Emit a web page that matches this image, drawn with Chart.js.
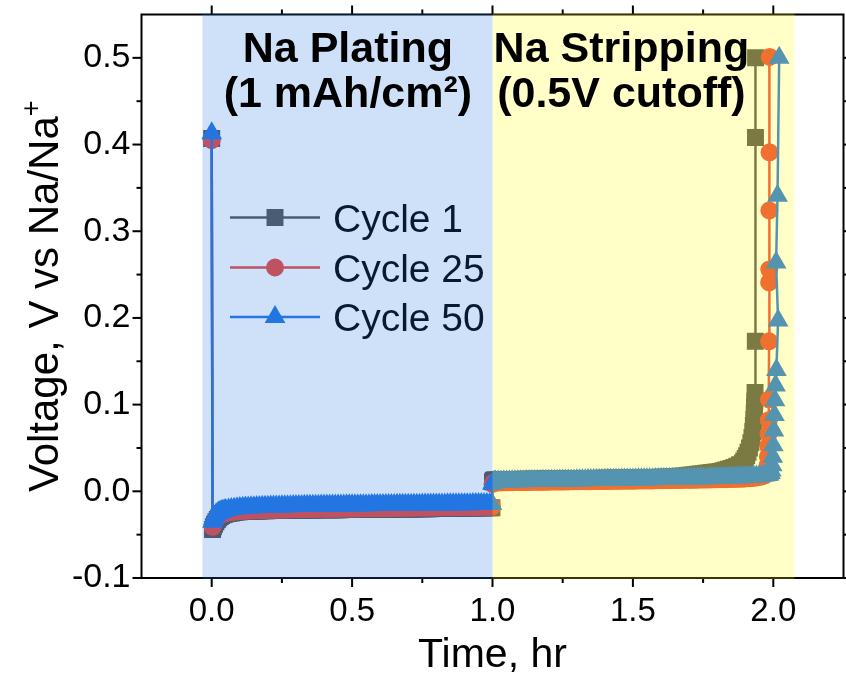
<!DOCTYPE html>
<html>
<head>
<meta charset="utf-8">
<script src="https://cdn.jsdelivr.net/npm/chart.js@4.4.1/dist/chart.umd.min.js"></script>
<style>
  html, body { margin: 0; padding: 0; background: #ffffff; }
  canvas { display: block; }
</style>
</head>
<body>
<canvas id="chart" width="846" height="693"></canvas>
<script>
// Galvanostatic Na plating / stripping profiles, voltage vs time
const seriesNames = ['Cycle 1', 'Cycle 25', 'Cycle 50'];

// plating step (hr)
const plateTime = [
  0, 0.003, 0.006, 0.01, 0.015, 0.02, 0.025, 0.03, 0.035, 0.04, 0.045, 0.05, 0.06, 0.07, 0.08, 0.09,
  0.10, 0.11, 0.12, 0.13, 0.14, 0.15, 0.16, 0.17, 0.18, 0.19,
  0.20, 0.21, 0.22, 0.23, 0.24, 0.25, 0.26, 0.27, 0.28, 0.29,
  0.30, 0.31, 0.32, 0.33, 0.34, 0.35, 0.36, 0.37, 0.38, 0.39,
  0.40, 0.41, 0.42, 0.43, 0.44, 0.45, 0.46, 0.47, 0.48, 0.49,
  0.50, 0.51, 0.52, 0.53, 0.54, 0.55, 0.56, 0.57, 0.58, 0.59,
  0.60, 0.61, 0.62, 0.63, 0.64, 0.65, 0.66, 0.67, 0.68, 0.69,
  0.70, 0.71, 0.72, 0.73, 0.74, 0.75, 0.76, 0.77, 0.78, 0.79,
  0.80, 0.81, 0.82, 0.83, 0.84, 0.85, 0.86, 0.87, 0.88, 0.89,
  0.90, 0.91, 0.92, 0.93, 0.94, 0.95, 0.96, 0.97, 0.98, 0.99,
  0.998
];
const c1Plate = [
  0.407, -0.044, -0.041, -0.038, -0.035, -0.0325, -0.0305, -0.029, -0.028, -0.027, -0.0265, -0.026, -0.0255, -0.025, -0.0245, -0.024,
  -0.0237, -0.0234, -0.0232, -0.023, -0.0229, -0.0228, -0.0227, -0.0226, -0.0225, -0.0224,
  -0.0223, -0.0222, -0.0222, -0.0221, -0.022, -0.022, -0.0219, -0.0219, -0.0218, -0.0218,
  -0.0217, -0.0217, -0.0216, -0.0216, -0.0216, -0.0215, -0.0215, -0.0215, -0.0214, -0.0214,
  -0.0214, -0.0213, -0.0213, -0.0213, -0.0212, -0.0212, -0.0212, -0.0211, -0.0211, -0.0211,
  -0.021, -0.021, -0.021, -0.0209, -0.0209, -0.0209, -0.0208, -0.0208, -0.0208, -0.0207,
  -0.0207, -0.0207, -0.0206, -0.0206, -0.0206, -0.0205, -0.0205, -0.0205, -0.0204, -0.0204,
  -0.0204, -0.0203, -0.0203, -0.0202, -0.0202, -0.0201, -0.0201, -0.02, -0.02, -0.0199,
  -0.0199, -0.0198, -0.0198, -0.0197, -0.0197, -0.0196, -0.0196, -0.0195, -0.0195, -0.0194,
  -0.0194, -0.0193, -0.0193, -0.0192, -0.0192, -0.0191, -0.0191, -0.019, -0.019, -0.0189,
  -0.0189
];
const c25Plate = [
  0.405, -0.041, -0.038, -0.035, -0.032, -0.030, -0.0285, -0.0275, -0.0265, -0.026, -0.0255, -0.025, -0.0245, -0.024, -0.0235, -0.023,
  -0.0228, -0.0226, -0.0224, -0.0222, -0.0221, -0.022, -0.0219, -0.0218, -0.0217, -0.0216,
  -0.0215, -0.0214, -0.0213, -0.0212, -0.0211, -0.021, -0.021, -0.0209, -0.0208, -0.0208,
  -0.0207, -0.0206, -0.0206, -0.0205, -0.0205, -0.0204, -0.0204, -0.0203, -0.0203, -0.0202,
  -0.0202, -0.0201, -0.0201, -0.02, -0.02, -0.02, -0.0199, -0.0199, -0.0198, -0.0198,
  -0.0198, -0.0197, -0.0197, -0.0196, -0.0196, -0.0196, -0.0195, -0.0195, -0.0194, -0.0194,
  -0.0194, -0.0193, -0.0193, -0.0192, -0.0192, -0.0192, -0.0191, -0.0191, -0.019, -0.019,
  -0.019, -0.0189, -0.0189, -0.0188, -0.0188, -0.0188, -0.0187, -0.0187, -0.0186, -0.0186,
  -0.0186, -0.0185, -0.0185, -0.0184, -0.0184, -0.0184, -0.0183, -0.0183, -0.0182, -0.0182,
  -0.0182, -0.0181, -0.0181, -0.018, -0.018, -0.018, -0.0179, -0.0179, -0.0178, -0.0178,
  -0.0178
];
const c50Plate = [
  0.413, -0.035, -0.032, -0.029, -0.027, -0.0255, -0.0245, -0.0235, -0.023, -0.0225, -0.022, -0.0215, -0.021, -0.0205, -0.020, -0.0195,
  -0.0192, -0.019, -0.0188, -0.0186, -0.0185, -0.0183, -0.0182, -0.018, -0.0179, -0.0178,
  -0.0177, -0.0176, -0.0175, -0.0175, -0.0174, -0.0173, -0.0172, -0.0172, -0.0171, -0.017,
  -0.017, -0.0169, -0.0169, -0.0168, -0.0168, -0.0167, -0.0167, -0.0166, -0.0166, -0.0165,
  -0.0165, -0.0165, -0.0164, -0.0164, -0.0164, -0.0163, -0.0163, -0.0163, -0.0162, -0.0162,
  -0.0162, -0.0161, -0.0161, -0.0161, -0.016, -0.016, -0.016, -0.0159, -0.0159, -0.0159,
  -0.0158, -0.0158, -0.0158, -0.0157, -0.0157, -0.0157, -0.0156, -0.0156, -0.0156, -0.0155,
  -0.0155, -0.0155, -0.0154, -0.0154, -0.0154, -0.0153, -0.0153, -0.0153, -0.0152, -0.0152,
  -0.0152, -0.0151, -0.0151, -0.0151, -0.015, -0.015, -0.015, -0.0149, -0.0149, -0.0149,
  -0.0148, -0.0148, -0.0148, -0.0147, -0.0147, -0.0147, -0.0146, -0.0146, -0.0146, -0.0145,
  -0.0145
];

// stripping step (hr), common part
const stripTime = [
  1.0, 1.003, 1.006,
  1.01, 1.02, 1.03, 1.04, 1.05, 1.06, 1.07, 1.08, 1.09,
  1.10, 1.11, 1.12, 1.13, 1.14, 1.15, 1.16, 1.17, 1.18, 1.19,
  1.20, 1.21, 1.22, 1.23, 1.24, 1.25, 1.26, 1.27, 1.28, 1.29,
  1.30, 1.31, 1.32, 1.33, 1.34, 1.35, 1.36, 1.37, 1.38, 1.39,
  1.40, 1.41, 1.42, 1.43, 1.44, 1.45, 1.46, 1.47, 1.48, 1.49,
  1.50, 1.51, 1.52, 1.53, 1.54, 1.55, 1.56, 1.57, 1.58, 1.59,
  1.60, 1.61, 1.62, 1.63, 1.64, 1.65, 1.66, 1.67, 1.68, 1.69,
  1.70, 1.71, 1.72, 1.73, 1.74, 1.75, 1.76, 1.77, 1.78, 1.79,
  1.80, 1.81, 1.82, 1.83, 1.84, 1.85, 1.86, 1.87, 1.88, 1.89
];
const c1Strip = [
  0.011, 0.0125, 0.013,
  0.0132, 0.0133, 0.0134, 0.0134, 0.0135, 0.0135, 0.0136, 0.0136, 0.0137,
  0.0137, 0.0138, 0.0138, 0.0139, 0.0139, 0.014, 0.014, 0.0141, 0.0141, 0.0142,
  0.0142, 0.0142, 0.0143, 0.0143, 0.0144, 0.0144, 0.0144, 0.0145, 0.0145, 0.0146,
  0.0146, 0.0146, 0.0147, 0.0147, 0.0148, 0.0148, 0.0148, 0.0149, 0.0149, 0.015,
  0.015, 0.015, 0.0151, 0.0151, 0.0152, 0.0152, 0.0153, 0.0153, 0.0154, 0.0154,
  0.0155, 0.0155, 0.0156, 0.0156, 0.0157, 0.0157, 0.0158, 0.0158, 0.0159, 0.016,
  0.0161, 0.0162, 0.0163, 0.0164, 0.0166, 0.0168, 0.017, 0.0173, 0.0176, 0.018,
  0.0184, 0.0188, 0.0192, 0.0196, 0.02, 0.0204, 0.0208, 0.0212, 0.0216, 0.022,
  0.0224, 0.023, 0.0237, 0.0245, 0.0254, 0.0264, 0.0276, 0.029, 0.0307, 0.0328
];
const c25Strip = [
  0.0085, 0.0098, 0.0101,
  0.0102, 0.0103, 0.0103, 0.0104, 0.0104, 0.0105, 0.0105, 0.0106, 0.0106,
  0.0107, 0.0107, 0.0108, 0.0108, 0.0109, 0.0109, 0.011, 0.011, 0.011, 0.0111,
  0.0111, 0.0112, 0.0112, 0.0113, 0.0113, 0.0113, 0.0114, 0.0114, 0.0115, 0.0115,
  0.0115, 0.0116, 0.0116, 0.0117, 0.0117, 0.0117, 0.0118, 0.0118, 0.0119, 0.0119,
  0.0119, 0.012, 0.012, 0.0121, 0.0121, 0.0121, 0.0122, 0.0122, 0.0123, 0.0123,
  0.0123, 0.0124, 0.0124, 0.0125, 0.0125, 0.0125, 0.0126, 0.0126, 0.0127, 0.0127,
  0.0128, 0.0128, 0.0129, 0.0129, 0.013, 0.013, 0.0131, 0.0131, 0.0132, 0.0132,
  0.0133, 0.0133, 0.0134, 0.0134, 0.0135, 0.0135, 0.0136, 0.0137, 0.0137, 0.0138,
  0.0138, 0.0139, 0.014, 0.014, 0.0141, 0.0142, 0.0143, 0.0144, 0.0145, 0.0146
];
const c50Strip = [
  0.0088, 0.0105, 0.011,
  0.0112, 0.0113, 0.0113, 0.0114, 0.0114, 0.0115, 0.0115, 0.0116, 0.0116,
  0.0117, 0.0117, 0.0118, 0.0118, 0.0119, 0.0119, 0.012, 0.012, 0.0121, 0.0121,
  0.0122, 0.0122, 0.0123, 0.0123, 0.0124, 0.0124, 0.0125, 0.0125, 0.0126, 0.0126,
  0.0127, 0.0127, 0.0128, 0.0128, 0.0129, 0.0129, 0.013, 0.013, 0.0131, 0.0131,
  0.0132, 0.0132, 0.0133, 0.0133, 0.0134, 0.0134, 0.0135, 0.0135, 0.0136, 0.0136,
  0.0137, 0.0137, 0.0138, 0.0138, 0.0139, 0.0139, 0.014, 0.014, 0.0141, 0.0141,
  0.0142, 0.0142, 0.0143, 0.0143, 0.0144, 0.0145, 0.0145, 0.0146, 0.0146, 0.0147,
  0.0148, 0.0148, 0.0149, 0.015, 0.015, 0.0151, 0.0152, 0.0152, 0.0153, 0.0154,
  0.0155, 0.0155, 0.0156, 0.0157, 0.0158, 0.0159, 0.016, 0.0161, 0.0162, 0.0163
];

// end of stripping, up to the 0.5 V cutoff
const c1TailTime = [1.895, 1.90, 1.905, 1.91, 1.915, 1.92, 1.924, 1.927, 1.929, 1.931, 1.932, 1.933, 1.934, 1.935, 1.936, 1.9365, 1.937];
const c1TailV    = [0.035, 0.038, 0.041, 0.045, 0.05, 0.056, 0.062, 0.069, 0.076, 0.083, 0.09, 0.097, 0.104, 0.114, 0.173, 0.408, 0.5];
const c25TailTime = [1.90, 1.91, 1.92, 1.93, 1.94, 1.95, 1.96, 1.97, 1.975, 1.978, 1.98, 1.981, 1.982, 1.983, 1.984, 1.9845, 1.985, 1.9853, 1.9856, 1.986, 1.9865, 1.987];
const c25TailV    = [0.0148, 0.015, 0.0153, 0.0156, 0.016, 0.0165, 0.0172, 0.0185, 0.0205, 0.024, 0.03, 0.04, 0.052, 0.066, 0.082, 0.106, 0.173, 0.241, 0.256, 0.324, 0.391, 0.501];
const c50TailTime = [1.90, 1.91, 1.92, 1.93, 1.94, 1.95, 1.96, 1.97, 1.98, 1.985, 1.99, 1.993, 1.996, 1.998, 2.0, 2.002, 2.004, 2.006, 2.008, 2.011, 2.017, 2.010, 2.015, 2.021];
const c50TailV    = [0.0164, 0.0166, 0.0168, 0.017, 0.0172, 0.0175, 0.0178, 0.0182, 0.0188, 0.0195, 0.021, 0.024, 0.03, 0.04, 0.053, 0.07, 0.088, 0.105, 0.122, 0.14, 0.197, 0.264, 0.341, 0.5];

// axes
const xRange = [-0.25, 2.25];
const yRange = [-0.1, 0.55];
const xTicks = [0.0, 0.5, 1.0, 1.5, 2.0];
const xMinorTicks = [0.25, 0.75, 1.25, 1.75];
const yTicks = [-0.1, 0.0, 0.1, 0.2, 0.3, 0.4, 0.5];
const yMinorTicks = [-0.05, 0.05, 0.15, 0.25, 0.35, 0.45];

// shaded step windows (hr)
const platingSpan = [-0.033, 1.0];
const strippingSpan = [1.0, 2.075];

const FONT = "'Liberation Sans', Arial, Helvetica, sans-serif";
const lineColors = ['#555555', '#ec483e', '#2577e2'];
const markers = [
  { style: 'rect', radius: 12 },
  { style: 'circle', radius: 9 },
  { style: 'triangle', radius: 12 }
];

function toPoints(times, volts) {
  return times.map((t, i) => ({ x: t, y: volts[i] }));
}

const seriesData = [
  [...toPoints(plateTime, c1Plate), ...toPoints(stripTime, c1Strip), ...toPoints(c1TailTime, c1TailV)],
  [...toPoints(plateTime, c25Plate), ...toPoints(stripTime, c25Strip), ...toPoints(c25TailTime, c25TailV)],
  [...toPoints(plateTime, c50Plate), ...toPoints(stripTime, c50Strip), ...toPoints(c50TailTime, c50TailV)]
];

// later cycles are painted over earlier ones
const datasets = seriesNames.map((name, i) => ({
  label: name,
  data: seriesData[i],
  order: seriesNames.length - i,
  borderColor: lineColors[i],
  backgroundColor: lineColors[i],
  borderWidth: 2.5,
  pointStyle: markers[i].style,
  pointRadius: markers[i].radius,
  pointBorderWidth: 0,
  pointBackgroundColor: lineColors[i],
  tension: 0,
  showLine: true
}));

function markerAt(ctx, style, radius, color, x, y) {
  ctx.fillStyle = color;
  ctx.beginPath();
  if (style === 'rect') {
    const s = radius * Math.SQRT1_2;
    ctx.rect(x - s, y - s, 2 * s, 2 * s);
  } else if (style === 'circle') {
    ctx.arc(x, y, radius, 0, Math.PI * 2);
  } else {
    ctx.moveTo(x, y - radius);
    ctx.lineTo(x + Math.sin(Math.PI * 2 / 3) * radius, y + radius / 2);
    ctx.lineTo(x - Math.sin(Math.PI * 2 / 3) * radius, y + radius / 2);
    ctx.closePath();
  }
  ctx.fill();
}

const decorations = {
  id: 'decorations',
  beforeDatasetsDraw(chart) {
    const { ctx, chartArea: a, scales: { x, y } } = chart;
    ctx.save();
    ctx.strokeStyle = '#000';
    ctx.lineWidth = 2;
    ctx.strokeRect(a.left, a.top, a.right - a.left, a.bottom - a.top);
    const seg = (x1, y1, x2, y2) => { ctx.beginPath(); ctx.moveTo(x1, y1); ctx.lineTo(x2, y2); ctx.stroke(); };
    const major = 9, minor = 5;
    xTicks.forEach(v => { const p = x.getPixelForValue(v); seg(p, a.bottom, p, a.bottom + major); seg(p, a.top, p, a.top - major); });
    xMinorTicks.forEach(v => { const p = x.getPixelForValue(v); seg(p, a.bottom, p, a.bottom + minor); seg(p, a.top, p, a.top - minor); });
    yTicks.forEach(v => { const p = y.getPixelForValue(v); seg(a.left, p, a.left - major, p); seg(a.right, p, a.right + major, p); });
    yMinorTicks.forEach(v => { const p = y.getPixelForValue(v); seg(a.left, p, a.left - minor, p); seg(a.right, p, a.right + minor, p); });
    ctx.restore();
  },
  afterDatasetsDraw(chart) {
    const { ctx, chartArea: a, scales: { x, y } } = chart;
    ctx.save();

    // legend
    const rows = [217.5, 267.5, 317];
    seriesNames.forEach((name, i) => {
      const ry = rows[i];
      ctx.strokeStyle = lineColors[i];
      ctx.lineWidth = 2.5;
      ctx.beginPath(); ctx.moveTo(230, ry); ctx.lineTo(320, ry); ctx.stroke();
      markerAt(ctx, markers[i].style, markers[i].radius, lineColors[i], 275, ry);
      ctx.fillStyle = '#000';
      ctx.font = `39px ${FONT}`;
      ctx.textAlign = 'left';
      ctx.textBaseline = 'alphabetic';
      ctx.fillText(name, 333, ry + 14);
    });

    // translucent step windows
    const top = a.top - 1, h = a.bottom - a.top + 2;
    ctx.fillStyle = 'rgba(30, 120, 225, 0.22)';
    const p0 = x.getPixelForValue(platingSpan[0]), p1 = x.getPixelForValue(platingSpan[1]);
    ctx.fillRect(p0, top, p1 - p0, h);
    ctx.fillStyle = 'rgba(255, 255, 0, 0.22)';
    const s0 = x.getPixelForValue(strippingSpan[0]), s1 = x.getPixelForValue(strippingSpan[1]);
    ctx.fillRect(s0, top, s1 - s0, h);

    // step captions
    ctx.fillStyle = '#000';
    ctx.font = `bold 43px ${FONT}`;
    ctx.textAlign = 'center';
    ctx.textBaseline = 'alphabetic';
    const cp = x.getPixelForValue(0.485), cs = x.getPixelForValue(1.459);
    ctx.fillText('Na Plating', cp, 62);
    ctx.fillText('(1 mAh/cm\u00B2)', cp, 107);
    ctx.fillText('Na Stripping', cs, 62);
    ctx.fillText('(0.5V cutoff)', cs, 107);

    // axis titles
    ctx.font = `41px ${FONT}`;
    ctx.textAlign = 'center';
    ctx.fillText('Time, hr', (a.left + a.right) / 2, 667);

    ctx.save();
    ctx.translate(58, (a.top + a.bottom) / 2);
    ctx.rotate(-Math.PI / 2);
    const main = 'Voltage, V vs Na/Na';
    ctx.font = `42px ${FONT}`;
    const wMain = ctx.measureText(main).width;
    ctx.font = `27px ${FONT}`;
    const wSup = ctx.measureText('+').width;
    const start = -(wMain + wSup) / 2;
    ctx.textAlign = 'left';
    ctx.font = `42px ${FONT}`;
    ctx.fillText(main, start, 0);
    ctx.font = `27px ${FONT}`;
    ctx.fillText('+', start + wMain, -18);
    ctx.restore();

    ctx.restore();
  }
};

new Chart(document.getElementById('chart'), {
  type: 'scatter',
  data: { datasets },
  options: {
    responsive: false,
    animation: false,
    layout: { autoPadding: false, padding: { top: 14.5, right: 2.5, left: 0, bottom: 0 } },
    plugins: { legend: { display: false }, tooltip: { enabled: false }, title: { display: false } },
    scales: {
      x: {
        type: 'linear', min: xRange[0], max: xRange[1],
        grid: { display: false, drawTicks: false },
        border: { display: false },
        afterBuildTicks: s => { s.ticks = xTicks.map(v => ({ value: v })); },
        afterFit: s => { s.height = 115; s.paddingLeft = 0; s.paddingRight = 0; s.paddingTop = 0; s.paddingBottom = 0; },
        ticks: { color: '#000', padding: 14, font: { family: FONT, size: 33 }, callback: v => v.toFixed(1) }
      },
      y: {
        type: 'linear', min: yRange[0], max: yRange[1],
        grid: { display: false, drawTicks: false },
        border: { display: false },
        afterBuildTicks: s => { s.ticks = yTicks.map(v => ({ value: v })); },
        afterFit: s => { s.width = 141.5; s.paddingLeft = 0; s.paddingRight = 0; s.paddingTop = 0; s.paddingBottom = 0; },
        ticks: { color: '#000', padding: 11, font: { family: FONT, size: 34 }, callback: v => v.toFixed(1) }
      }
    }
  },
  plugins: [decorations]
});
</script>
</body>
</html>
